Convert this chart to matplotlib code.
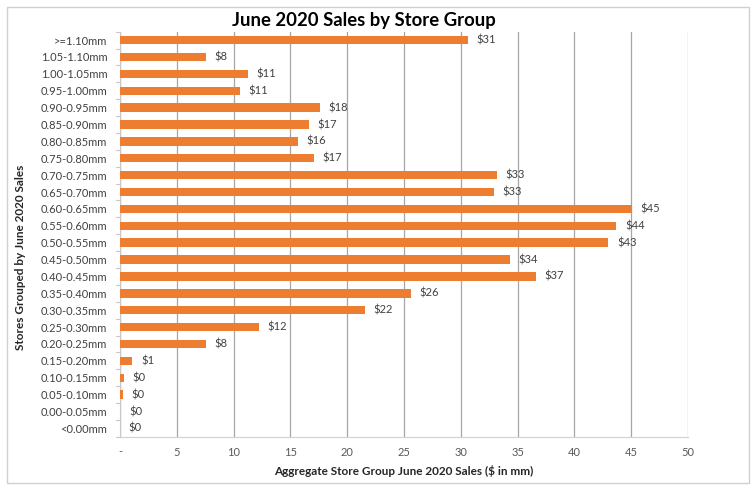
import matplotlib
matplotlib.use("Agg")
import matplotlib.pyplot as plt
from matplotlib.patches import Rectangle

categories = [">=1.10mm", "1.05-1.10mm", "1.00-1.05mm", "0.95-1.00mm", "0.90-0.95mm",
              "0.85-0.90mm", "0.80-0.85mm", "0.75-0.80mm", "0.70-0.75mm", "0.65-0.70mm",
              "0.60-0.65mm", "0.55-0.60mm", "0.50-0.55mm", "0.45-0.50mm", "0.40-0.45mm",
              "0.35-0.40mm", "0.30-0.35mm", "0.25-0.30mm", "0.20-0.25mm", "0.15-0.20mm",
              "0.10-0.15mm", "0.05-0.10mm", "0.00-0.05mm", "<0.00mm"]
sales = [30.6, 7.6, 11.3, 10.6, 17.6, 16.6, 15.7, 17.1, 33.2, 32.9,
         45.1, 43.7, 43.0, 34.3, 36.6, 25.6, 21.6, 12.2, 7.6, 1.1,
         0.37, 0.25, 0.05, 0.01]
x_ticks = [0, 5, 10, 15, 20, 25, 30, 35, 40, 45, 50]
x_tick_labels = ["-", "5", "10", "15", "20", "25", "30", "35", "40", "45", "50"]

plt.rcParams['font.family'] = ['Lato', 'DejaVu Sans']

fig = plt.figure(figsize=(7.54, 4.87), dpi=100)
fig.patches.append(Rectangle((0.009, 0.008), 0.985, 0.978, transform=fig.transFigure,
                             fill=False, edgecolor="#d0d0d0", linewidth=1.0))

ax = fig.add_axes([0.159, 0.103, 0.7535, 0.832])
y = list(range(len(categories)))
ax.barh(y, sales, height=0.5, color="#ED7D31", zorder=3)

for yi, v in zip(y, sales):
    ax.text(v + 0.75, yi, f"${round(v):.0f}", va="center", ha="left",
            fontsize=8, color="#404040")

ax.set_xlim(0, 50)
ax.set_ylim(len(categories) - 0.5, -0.5)
ax.set_xticks(x_ticks)
ax.set_xticklabels(x_tick_labels)
ax.set_yticks(y)
ax.set_yticklabels(categories)
ax.tick_params(axis="x", length=0, labelsize=8, labelcolor="#595959", pad=7)
ax.tick_params(axis="y", length=0, labelsize=8, labelcolor="#404040", pad=9)

# small tick marks between categories on the value axis
for b in [i - 0.5 for i in range(len(categories) + 1)]:
    ax.plot([-0.35, 0], [b, b], color="#c8c8c8", lw=0.8, clip_on=False, zorder=2)

ax.grid(axis="x", color="#a6a6a6", linewidth=0.9, zorder=0)
ax.grid(axis="y", visible=False)
for side in ["top", "right"]:
    ax.spines[side].set_visible(False)
ax.spines["left"].set_color("#c8c8c8")
ax.spines["bottom"].set_color("#d0d0d0")

ax.set_xlabel("Aggregate Store Group June 2020 Sales ($ in mm)", fontsize=8.5,
              fontweight="bold", color="#262626", labelpad=5)
fig.text(0.027, 0.472, "Stores Grouped by June 2020 Sales", rotation=90, ha="center",
         va="center", fontsize=8.5, fontweight="bold", color="#262626")
fig.text(0.482, 0.958, "June 2020 Sales by Store Group", ha="center", va="center",
         fontsize=13.3, fontweight="bold", color="#000000")

fig.savefig("out.png", dpi=100)
